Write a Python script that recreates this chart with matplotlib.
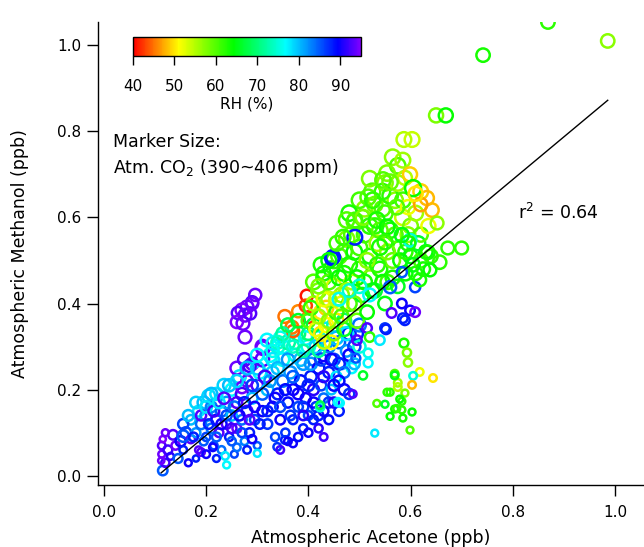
import numpy as np
import matplotlib
matplotlib.use('Agg')
import matplotlib.pyplot as plt
from matplotlib.colors import LinearSegmentedColormap, Normalize
from matplotlib.cm import ScalarMappable

plt.rcParams.update({
    'font.family': ['DejaVu Sans'],
    'font.size': 11,
    'mathtext.fontset': 'dejavusans',
})

# ---- measurements: acetone (ppb), methanol (ppb), RH (%), CO2 (ppm) ----
acetone = [
    # low-concentration end
    0.115, 0.12, 0.113, 0.113, 0.115, 0.125, 0.13, 0.14, 0.135, 0.15,
    0.155, 0.145, 0.16, 0.17, 0.155, 0.185, 0.18, 0.12, 0.112, 0.165,
    # lower band
    0.17, 0.18, 0.185, 0.19, 0.195, 0.20, 0.20, 0.205, 0.21, 0.21,
    0.215, 0.22, 0.22, 0.225, 0.23, 0.23, 0.235, 0.24, 0.24, 0.245,
    0.25, 0.25, 0.255, 0.26, 0.26, 0.265, 0.27, 0.27, 0.275, 0.28,
    0.28, 0.285, 0.29, 0.29, 0.295, 0.30, 0.30, 0.305, 0.31, 0.31,
    0.237, 0.24, 0.339, 0.354, 0.37, 0.30, 0.26, 0.213, 0.19,
    # middle band
    0.32, 0.32, 0.325, 0.33, 0.33, 0.335, 0.34, 0.34, 0.345, 0.35,
    0.35, 0.355, 0.36, 0.36, 0.365, 0.37, 0.37, 0.375, 0.38, 0.38,
    0.385, 0.39, 0.39, 0.395, 0.40, 0.40, 0.405, 0.41, 0.41, 0.415,
    0.42, 0.42, 0.425, 0.43, 0.43, 0.435, 0.44, 0.44, 0.445, 0.45,
    0.45, 0.455, 0.46, 0.465, 0.47, 0.475, 0.48, 0.485, 0.49, 0.50,
    0.26, 0.275, 0.311, 0.31, 0.285, 0.27,
    # lower band, second pass
    0.155, 0.165, 0.175, 0.18, 0.19, 0.195, 0.20, 0.205, 0.21, 0.215,
    0.22, 0.225, 0.23, 0.235, 0.24, 0.245, 0.25, 0.255, 0.26, 0.265,
    0.27, 0.275, 0.28, 0.285, 0.29, 0.295, 0.30, 0.305, 0.31, 0.315,
    0.20, 0.22, 0.25, 0.28, 0.29,
    # middle band, second pass
    0.32, 0.325, 0.33, 0.335, 0.34, 0.345, 0.35, 0.355, 0.36, 0.365,
    0.37, 0.375, 0.38, 0.385, 0.39, 0.395, 0.40, 0.405, 0.41, 0.415,
    0.42, 0.425, 0.43, 0.435, 0.44, 0.445, 0.45, 0.455, 0.46, 0.47,
    0.475, 0.48, 0.49, 0.495, 0.50,
    # blue points under the fit line
    0.38, 0.39, 0.40, 0.41, 0.42, 0.43, 0.44, 0.45, 0.46, 0.47,
    0.345, 0.36, 0.46, 0.48, 0.43,
    # cyan patch
    0.331, 0.319, 0.345, 0.30,
    # humid group above the band
    0.296, 0.29, 0.28, 0.27, 0.262, 0.276, 0.26, 0.272, 0.286, 0.276,
    0.29,
    # dry group
    0.397, 0.40, 0.354, 0.38, 0.368, 0.37, 0.395,
    # teal and yellow transition
    0.35, 0.36, 0.37, 0.38, 0.39, 0.40, 0.41, 0.42, 0.34, 0.33,
    0.425, 0.435, 0.445, 0.455, 0.465,
    # upper cluster
    0.40, 0.41, 0.415, 0.42, 0.425, 0.43, 0.43, 0.435, 0.44, 0.445,
    0.45, 0.45, 0.455, 0.46, 0.465, 0.47, 0.47, 0.475, 0.48, 0.485,
    0.49, 0.49, 0.495, 0.50, 0.505, 0.51, 0.51, 0.515, 0.52, 0.52,
    0.525, 0.53, 0.53, 0.535, 0.54, 0.545, 0.55, 0.55, 0.555, 0.56,
    0.565, 0.57, 0.575, 0.58, 0.585, 0.59, 0.595, 0.60, 0.61, 0.62,
    0.63, 0.615,
    0.405, 0.41, 0.42, 0.425, 0.43, 0.44, 0.44, 0.45, 0.455, 0.46,
    0.465, 0.47, 0.475, 0.48, 0.485, 0.49, 0.495, 0.50, 0.505, 0.51,
    0.515, 0.52, 0.525, 0.53, 0.535, 0.54, 0.545, 0.55, 0.555, 0.56,
    0.565, 0.57, 0.575, 0.58, 0.585, 0.59, 0.60, 0.605, 0.61, 0.62,
    0.625, 0.64, 0.635, 0.62, 0.565, 0.575, 0.545, 0.52, 0.50, 0.48,
    0.50, 0.52, 0.48, 0.46, 0.599, 0.491, 0.448, 0.56, 0.446, 0.599,
    0.585, 0.55, 0.583, 0.609, 0.583, 0.609, 0.589, 0.563,
    0.587, 0.603, 0.585, 0.589, 0.599, 0.632, 0.642, 0.605, 0.595, 0.652,
    0.554, 0.546, 0.56, 0.517, 0.526, 0.491, 0.507, 0.534, 0.573, 0.554,
    0.55, 0.54, 0.583, 0.595, 0.468, 0.673, 0.70, 0.634, 0.657, 0.638,
    0.618, 0.62, 0.61, 0.456, 0.475, 0.44, 0.43, 0.42,
    # mixed points right of the band
    0.552, 0.515, 0.495, 0.52, 0.54, 0.517, 0.493, 0.517, 0.507, 0.458,
    0.423,
    # sparse group below the fit line
    0.587, 0.593, 0.595, 0.569, 0.618, 0.644, 0.605, 0.603, 0.575, 0.589,
    0.583, 0.569, 0.583, 0.603, 0.585, 0.599, 0.56, 0.569, 0.554, 0.534,
    0.55, 0.56, 0.573, 0.579, 0.575, 0.53, 0.487, 0.462, 0.423,
    # highest values
    0.742, 0.869, 0.986, 0.650, 0.669,
]

methanol = [
    0.012, 0.03, 0.05, 0.07, 0.085, 0.06, 0.045, 0.07, 0.095, 0.08,
    0.06, 0.04, 0.10, 0.085, 0.092, 0.06, 0.04, 0.10, 0.035, 0.03,
    0.13, 0.10, 0.15, 0.12, 0.17, 0.09, 0.14, 0.185, 0.11, 0.16,
    0.07, 0.13, 0.19, 0.10, 0.15, 0.06, 0.21, 0.12, 0.17, 0.09,
    0.14, 0.20, 0.05, 0.11, 0.17, 0.23, 0.13, 0.19, 0.08, 0.15,
    0.22, 0.10, 0.26, 0.18, 0.13, 0.21, 0.07, 0.24, 0.15, 0.27,
    0.046, 0.025, 0.067, 0.083, 0.075, 0.052, 0.066, 0.066, 0.055,
    0.12, 0.20, 0.28, 0.16, 0.24, 0.09, 0.19, 0.30, 0.13, 0.22,
    0.27, 0.10, 0.17, 0.31, 0.24, 0.13, 0.20, 0.28, 0.16, 0.33,
    0.22, 0.11, 0.26, 0.18, 0.30, 0.14, 0.23, 0.20, 0.27, 0.16,
    0.25, 0.32, 0.21, 0.28, 0.18, 0.34, 0.24, 0.30, 0.20, 0.27,
    0.35, 0.23, 0.31, 0.26, 0.36, 0.29, 0.33, 0.25, 0.30, 0.35,
    0.25, 0.27, 0.296, 0.30, 0.255, 0.205,
    0.12, 0.14, 0.09, 0.17, 0.14, 0.08, 0.16, 0.12, 0.19, 0.15,
    0.09, 0.17, 0.12, 0.18, 0.14, 0.21, 0.11, 0.16, 0.22, 0.14,
    0.10, 0.17, 0.25, 0.13, 0.21, 0.16, 0.25, 0.12, 0.19, 0.23,
    0.05, 0.04, 0.08, 0.06, 0.085,
    0.15, 0.22, 0.27, 0.18, 0.25, 0.16, 0.30, 0.20, 0.27, 0.14,
    0.23, 0.31, 0.19, 0.27, 0.16, 0.32, 0.21, 0.26, 0.17, 0.30,
    0.14, 0.27, 0.23, 0.31, 0.17, 0.27, 0.21, 0.32, 0.26, 0.24,
    0.33, 0.28, 0.26, 0.33, 0.30,
    0.09, 0.14, 0.10, 0.13, 0.11, 0.15, 0.13, 0.17, 0.15, 0.20,
    0.06, 0.08, 0.22, 0.19, 0.09,
    0.308, 0.315, 0.32, 0.28,
    0.42, 0.403, 0.392, 0.385, 0.378, 0.373, 0.357, 0.354, 0.377, 0.322,
    0.40,
    0.418, 0.368, 0.37, 0.382, 0.345, 0.336, 0.395,
    0.33, 0.35, 0.30, 0.36, 0.29, 0.33, 0.35, 0.29, 0.31, 0.29,
    0.33, 0.39, 0.31, 0.36, 0.40,
    0.36, 0.40, 0.34, 0.43, 0.38, 0.31, 0.46, 0.35, 0.41, 0.48,
    0.33, 0.44, 0.38, 0.51, 0.42, 0.47, 0.34, 0.55, 0.40, 0.45,
    0.52, 0.59, 0.36, 0.48, 0.42, 0.56, 0.62, 0.38, 0.46, 0.51,
    0.66, 0.43, 0.58, 0.54, 0.48, 0.62, 0.40, 0.68, 0.45, 0.57,
    0.50, 0.64, 0.44, 0.53, 0.60, 0.47, 0.56, 0.51, 0.47, 0.50,
    0.52, 0.54,
    0.39, 0.45, 0.37, 0.49, 0.41, 0.36, 0.45, 0.50, 0.41, 0.46,
    0.37, 0.52, 0.43, 0.49, 0.56, 0.40, 0.46, 0.53, 0.60, 0.45,
    0.50, 0.58, 0.43, 0.63, 0.49, 0.57, 0.45, 0.61, 0.52, 0.65,
    0.46, 0.56, 0.68, 0.50, 0.64, 0.52, 0.58, 0.49, 0.61, 0.56,
    0.48, 0.51, 0.58, 0.66, 0.74, 0.72, 0.66, 0.69, 0.64, 0.61,
    0.44, 0.42, 0.43, 0.41, 0.547, 0.554, 0.508, 0.438, 0.505, 0.384,
    0.366, 0.343, 0.473, 0.438, 0.40, 0.38, 0.361, 0.378,
    0.781, 0.781, 0.733, 0.692, 0.70, 0.645, 0.617, 0.668, 0.624, 0.587,
    0.703, 0.687, 0.682, 0.647, 0.64, 0.594, 0.60, 0.594, 0.624, 0.578,
    0.543, 0.531, 0.559, 0.54, 0.554, 0.529, 0.529, 0.519, 0.496, 0.478,
    0.455, 0.63, 0.655, 0.54, 0.594, 0.50, 0.47, 0.44,
    0.34, 0.343, 0.315, 0.322, 0.315, 0.285, 0.273, 0.262, 0.233, 0.171,
    0.159,
    0.308, 0.286, 0.263, 0.237, 0.241, 0.227, 0.232, 0.211, 0.216, 0.192,
    0.173, 0.155, 0.153, 0.148, 0.134, 0.106, 0.194, 0.233, 0.194, 0.168,
    0.166, 0.138, 0.156, 0.178, 0.206, 0.099, 0.19, 0.169, 0.164,
    0.977, 1.054, 1.010, 0.837, 0.837,
]

rh = [
    85, 92, 94, 93, 95, 92, 91, 94, 93, 90,
    88, 85, 86, 93, 85, 93, 88, 94, 94, 90,
    80, 82, 78, 84, 80, 86, 82, 79, 84, 83,
    86, 90, 78, 93, 85, 84, 79, 93, 82, 88,
    80, 77, 86, 94, 93, 78, 84, 92, 83, 92,
    94, 88, 94, 80, 86, 93, 85, 77, 90, 93,
    78, 77, 87, 88, 90, 78, 84, 90, 93,
    87, 80, 77, 89, 79, 86, 88, 75, 90, 84,
    76, 87, 89, 72, 82, 88, 90, 76, 86, 70,
    89, 88, 82, 90, 76, 86, 88, 91, 84, 87,
    89, 75, 86, 90, 84, 78, 88, 83, 80, 86,
    73, 78, 85, 80, 70, 82, 88, 77, 86, 84,
    94, 93, 94, 94, 92, 94,
    86, 80, 88, 79, 93, 85, 78, 88, 80, 92,
    85, 78, 90, 93, 86, 80, 92, 84, 79, 90,
    86, 88, 80, 93, 86, 90, 79, 88, 85, 92,
    90, 88, 85, 88, 90,
    88, 82, 78, 90, 80, 86, 77, 89, 82, 87,
    85, 74, 90, 80, 87, 77, 88, 82, 90, 79,
    88, 86, 91, 82, 87, 90, 89, 80, 88, 84,
    78, 90, 80, 88, 75,
    89, 91, 90, 88, 91, 90, 89, 91, 88, 90,
    92, 90, 89, 87, 92,
    78, 77, 76, 77,
    94, 93, 94, 95, 93, 94, 95, 94, 93, 94,
    94,
    41, 42, 45, 46, 45, 44, 43,
    72, 68, 74, 66, 72, 70, 67, 72, 74, 76,
    50, 49, 51, 50, 52,
    60, 55, 52, 58, 50, 54, 62, 51, 56, 64,
    58, 53, 62, 60, 57, 63, 66, 58, 61, 55,
    64, 60, 59, 62, 66, 61, 57, 64, 58, 63,
    60, 67, 62, 56, 63, 60, 65, 58, 61, 63,
    59, 57, 66, 62, 54, 64, 57, 65, 63, 61,
    64, 66,
    62, 60, 56, 63, 52, 57, 60, 62, 54, 64,
    60, 61, 56, 63, 60, 58, 64, 61, 60, 63,
    57, 62, 65, 59, 62, 60, 64, 61, 58, 62,
    63, 60, 56, 64, 61, 62, 58, 65, 56, 60,
    63, 62, 52, 49, 57, 60, 62, 58, 61, 63,
    75, 77, 74, 76, 75, 88, 88, 85, 88, 90,
    88, 87, 85, 86, 90, 94, 88, 93,
    55, 54, 56, 55, 49, 48, 48, 64, 52, 57,
    58, 60, 59, 60, 62, 61, 58, 63, 60, 64,
    62, 63, 65, 63, 62, 62, 62, 63, 62, 64,
    63, 47, 50, 61, 60, 64, 63, 58,
    88, 93, 93, 62, 78, 76, 85, 77, 66, 77,
    75,
    63, 58, 57, 60, 52, 50, 75, 48, 56, 58,
    62, 63, 62, 64, 63, 60, 62, 65, 62, 60,
    66, 64, 62, 64, 55, 78, 93, 77, 68,
    63, 62, 57, 58, 64,
]

co2 = [
    396, 394, 392, 393, 391, 395, 392, 394, 396, 397,
    393, 395, 398, 394, 399, 392, 391, 392, 391, 392,
    396, 395, 398, 397, 400, 394, 399, 401, 396, 398,
    393, 397, 400, 395, 398, 393, 401, 396, 399, 394,
    397, 400, 392, 395, 398, 401, 396, 400, 393, 398,
    399, 395, 400, 398, 396, 399, 392, 401, 397, 402,
    393, 392, 393, 393, 393, 392, 393, 393, 393,
    396, 399, 402, 397, 400, 394, 398, 402, 396, 399,
    401, 394, 397, 403, 400, 395, 398, 401, 396, 403,
    399, 394, 400, 397, 402, 395, 399, 398, 400, 396,
    399, 402, 397, 400, 396, 402, 398, 400, 396, 399,
    402, 397, 400, 398, 403, 399, 401, 397, 400, 401,
    401, 401, 402, 402, 400, 399,
    397, 398, 395, 399, 397, 394, 399, 396, 400, 398,
    395, 399, 397, 399, 397, 400, 396, 398, 400, 397,
    395, 398, 401, 396, 399, 397, 401, 396, 399, 400,
    393, 392, 394, 393, 394,
    397, 399, 401, 398, 400, 397, 402, 398, 400, 396,
    399, 402, 398, 401, 397, 402, 399, 400, 397, 401,
    396, 400, 398, 401, 397, 399, 398, 401, 399, 398,
    401, 399, 398, 400, 400,
    394, 396, 394, 395, 394, 396, 395, 397, 396, 398,
    393, 393, 398, 397, 393,
    401, 401, 401, 401,
    400, 400, 401, 401, 400, 401, 400, 401, 400, 401,
    400,
    400, 399, 401, 400, 401, 400, 400,
    401, 402, 400, 402, 400, 401, 402, 400, 401, 400,
    403, 403, 402, 403, 403,
    402, 403, 402, 404, 403, 401, 404, 403, 404, 405,
    402, 404, 403, 405, 404, 404, 402, 405, 404, 404,
    405, 405, 403, 404, 403, 405, 405, 402, 404, 404,
    406, 403, 405, 405, 404, 405, 402, 405, 403, 405,
    404, 405, 402, 404, 405, 403, 404, 403, 402, 403,
    402, 403,
    403, 404, 403, 404, 403, 403, 404, 405, 404, 404,
    403, 405, 404, 405, 405, 403, 404, 405, 405, 404,
    404, 405, 403, 405, 404, 405, 403, 405, 404, 405,
    403, 404, 405, 403, 405, 403, 404, 402, 404, 403,
    402, 402, 403, 404, 405, 405, 405, 405, 405, 405,
    402, 401, 401, 401, 401, 404, 403, 400, 402, 396,
    396, 396, 397, 397, 396, 396, 396, 396,
    404, 404, 404, 403, 403, 403, 402, 406, 403, 401,
    405, 405, 405, 405, 405, 404, 404, 405, 404, 404,
    404, 405, 403, 404, 404, 401, 401, 402, 402, 401,
    401, 402, 403, 404, 405, 404, 403, 403,
    396, 396, 396, 396, 396, 395, 395, 395, 394, 394,
    394,
    395, 394, 394, 393, 393, 393, 393, 393, 393, 392,
    392, 392, 392, 392, 392, 392, 392, 393, 392, 392,
    392, 392, 392, 392, 393, 392, 393, 393, 393,
    402, 402, 402, 403, 403,
]

rh_ticks = [40, 50, 60, 70, 80, 90]
rh_range = (40, 95)
co2_range = (390, 406)
fit_slope = 0.99
fit_intercept = -0.104
r_squared = 0.64

acetone = np.array(acetone)
methanol = np.array(methanol)
rh = np.array(rh)
co2 = np.array(co2)
assert len(acetone) == len(methanol) == len(rh) == len(co2), \
    (len(acetone), len(methanol), len(rh), len(co2))

# rainbow: red -> yellow -> green -> cyan -> blue -> violet
rainbow = LinearSegmentedColormap.from_list('rh_rainbow', [
    (0.00, '#ff0000'), (0.20, '#ffff00'), (0.44, '#00ff00'),
    (0.67, '#00ffff'), (0.90, '#0000ff'), (1.00, '#8000ff')])
norm = Normalize(*rh_range)

# marker diameter scales with CO2
diam = 4.0 + (co2 - co2_range[0]) / (co2_range[1] - co2_range[0]) * 7.5

fig = plt.figure(figsize=(6.44, 5.47), dpi=100)
ax = fig.add_axes([0.152, 0.113, 0.848, 0.846])

ax.scatter(acetone, methanol, s=diam ** 2, facecolors='none',
           edgecolors=rainbow(norm(rh)), linewidths=1.8)

xfit = np.array([acetone.min(), acetone.max()])
ax.plot(xfit, fit_slope * xfit + fit_intercept, color='black', linewidth=1.0)

ax.set_xlim(-0.012, 1.057)
ax.set_ylim(-0.022, 1.053)
ax.set_xticks(np.arange(0, 1.01, 0.2))
ax.set_yticks(np.arange(0, 1.01, 0.2))
ax.xaxis.set_major_formatter(plt.FormatStrFormatter('%.1f'))
ax.yaxis.set_major_formatter(plt.FormatStrFormatter('%.1f'))
for side in ('top', 'right'):
    ax.spines[side].set_visible(False)
for side in ('left', 'bottom'):
    ax.spines[side].set_linewidth(1.0)
ax.tick_params(direction='out', length=8, width=1.0, labelsize=11, pad=4)
ax.tick_params(axis='x', pad=6)
ax.set_xlabel('Atmospheric Acetone (ppb)', fontsize=12.5, labelpad=7)
ax.set_ylabel('Atmospheric Methanol (ppb)', fontsize=12.5, labelpad=20)

fig.text(113 / 644, 1 - 142 / 547, 'Marker Size:', fontsize=12.5, va='center')
fig.text(113 / 644, 1 - 168 / 547, 'Atm. CO$_2$ (390~406 ppm)', fontsize=12.5,
         va='center')
fig.text(518 / 644, 1 - 213 / 547, 'r$^2$ = %.2f' % r_squared, fontsize=12.5,
         va='center')

# horizontal colour scale
cax = fig.add_axes([133 / 644, 1 - 56 / 547, 228 / 644, 19.5 / 547])
cb = fig.colorbar(ScalarMappable(norm=norm, cmap=rainbow), cax=cax,
                  orientation='horizontal', ticks=rh_ticks)
cb.outline.set_linewidth(1.0)
cax.tick_params(direction='out', length=6.5, width=1.0, labelsize=11, pad=10)
cb.set_label('RH (%)', fontsize=11, labelpad=2)

fig.savefig('out.png', dpi=100)
